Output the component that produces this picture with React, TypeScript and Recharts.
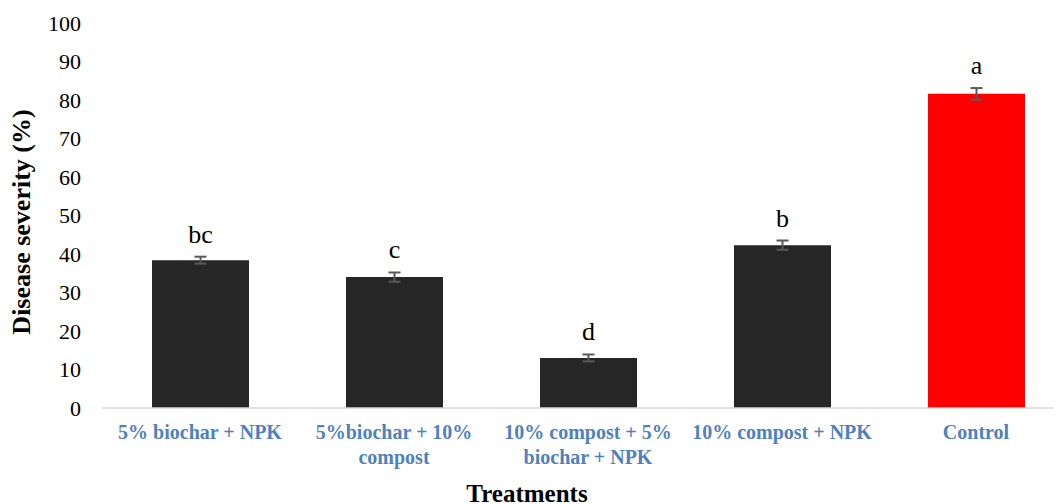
import React from "react";
import { BarChart, Bar, XAxis, YAxis, Cell, ErrorBar, LabelList } from "recharts";

const categories = ["5% biochar + NPK", "5%biochar + 10% compost", "10% compost + 5% biochar + NPK", "10% compost + NPK", "Control"];
const tickLines = [["5% biochar + NPK"], ["5%biochar + 10%", "compost"], ["10% compost + 5%", "biochar + NPK"], ["10% compost + NPK"], ["Control"]];
const severity = [38.4, 34.0, 13.0, 42.3, 81.6];
const errors = [0.9, 1.2, 0.9, 1.2, 1.5];
const letters = ["bc", "c", "d", "b", "a"];
const barColors = ["#262626", "#262626", "#262626", "#262626", "#FF0000"];
const yTicks = [0, 10, 20, 30, 40, 50, 60, 70, 80, 90, 100];

const data = categories.map((name, i) => ({ name, value: severity[i], err: errors[i], idx: i }));

const FONT = "'Liberation Serif', 'Times New Roman', serif";
const W = 1075;
const H = 496;
const M = { top: 15, right: 10, left: 0, bottom: 0 };
const XH = 96;
const PLOT_H = H - M.top - M.bottom - XH;
const PX = PLOT_H / 100;

const XTick = (props: any) => {
  const { x, y, payload } = props;
  const lines = tickLines[payload.index] || [payload.value];
  return (
    <g>
      {lines.map((l: string, i: number) => (
        <text key={i} x={x} y={y + 31 + i * 25} textAnchor="middle" fontFamily={FONT} fontWeight="bold" fontSize={20} fill="#4F81BD">
          {l}
        </text>
      ))}
    </g>
  );
};

const LetterLabel = (props: any) => {
  const { x, y, width, index } = props;
  return (
    <text x={x + width / 2} y={y - errors[index] * PX - 14} textAnchor="middle" fontFamily={FONT} fontSize={26} fill="#000">
      {letters[index]}
    </text>
  );
};

export default function App() {
  return (
    <div style={{ width: W, height: H, overflow: "hidden" }}>
      <style>{"html,body{overflow:hidden;}"}</style>
      <BarChart width={W} height={H} data={data} margin={M} barSize={97}>
        <XAxis
          dataKey="name"
          interval={0}
          height={XH}
          tickLine={false}
          tickSize={0}
          tickMargin={0}
          axisLine={{ stroke: "#D9D9D9", strokeWidth: 1.5 }}
          tick={<XTick />}
          label={(p: any) => (
            <text x={519} y={494} textAnchor="middle" fontFamily={FONT} fontWeight="bold" fontSize={25} fill="#000">
              Treatments
            </text>
          )}
        />
        <YAxis
          domain={[0, 100]}
          ticks={yTicks}
          width={95}
          axisLine={false}
          tickLine={false}
          tickSize={0}
          tickMargin={22}
          tick={{ fontFamily: FONT, fontSize: 22, fill: "#000" }}
          label={(p: any) => (
            <text x={22} y={214} transform="rotate(-90 22 214)" textAnchor="middle" fontFamily={FONT} fontWeight="bold" fontSize={26} fill="#000">
              Disease severity (%)
            </text>
          )}
        />
        <Bar dataKey="value" isAnimationActive={false}>
          {data.map((d, i) => (
            <Cell key={i} fill={barColors[i]} />
          ))}
          <ErrorBar dataKey="err" direction="y" stroke="#595959" strokeWidth={2} width={6} />
          <LabelList dataKey="value" content={<LetterLabel />} />
        </Bar>
      </BarChart>
    </div>
  );
}
